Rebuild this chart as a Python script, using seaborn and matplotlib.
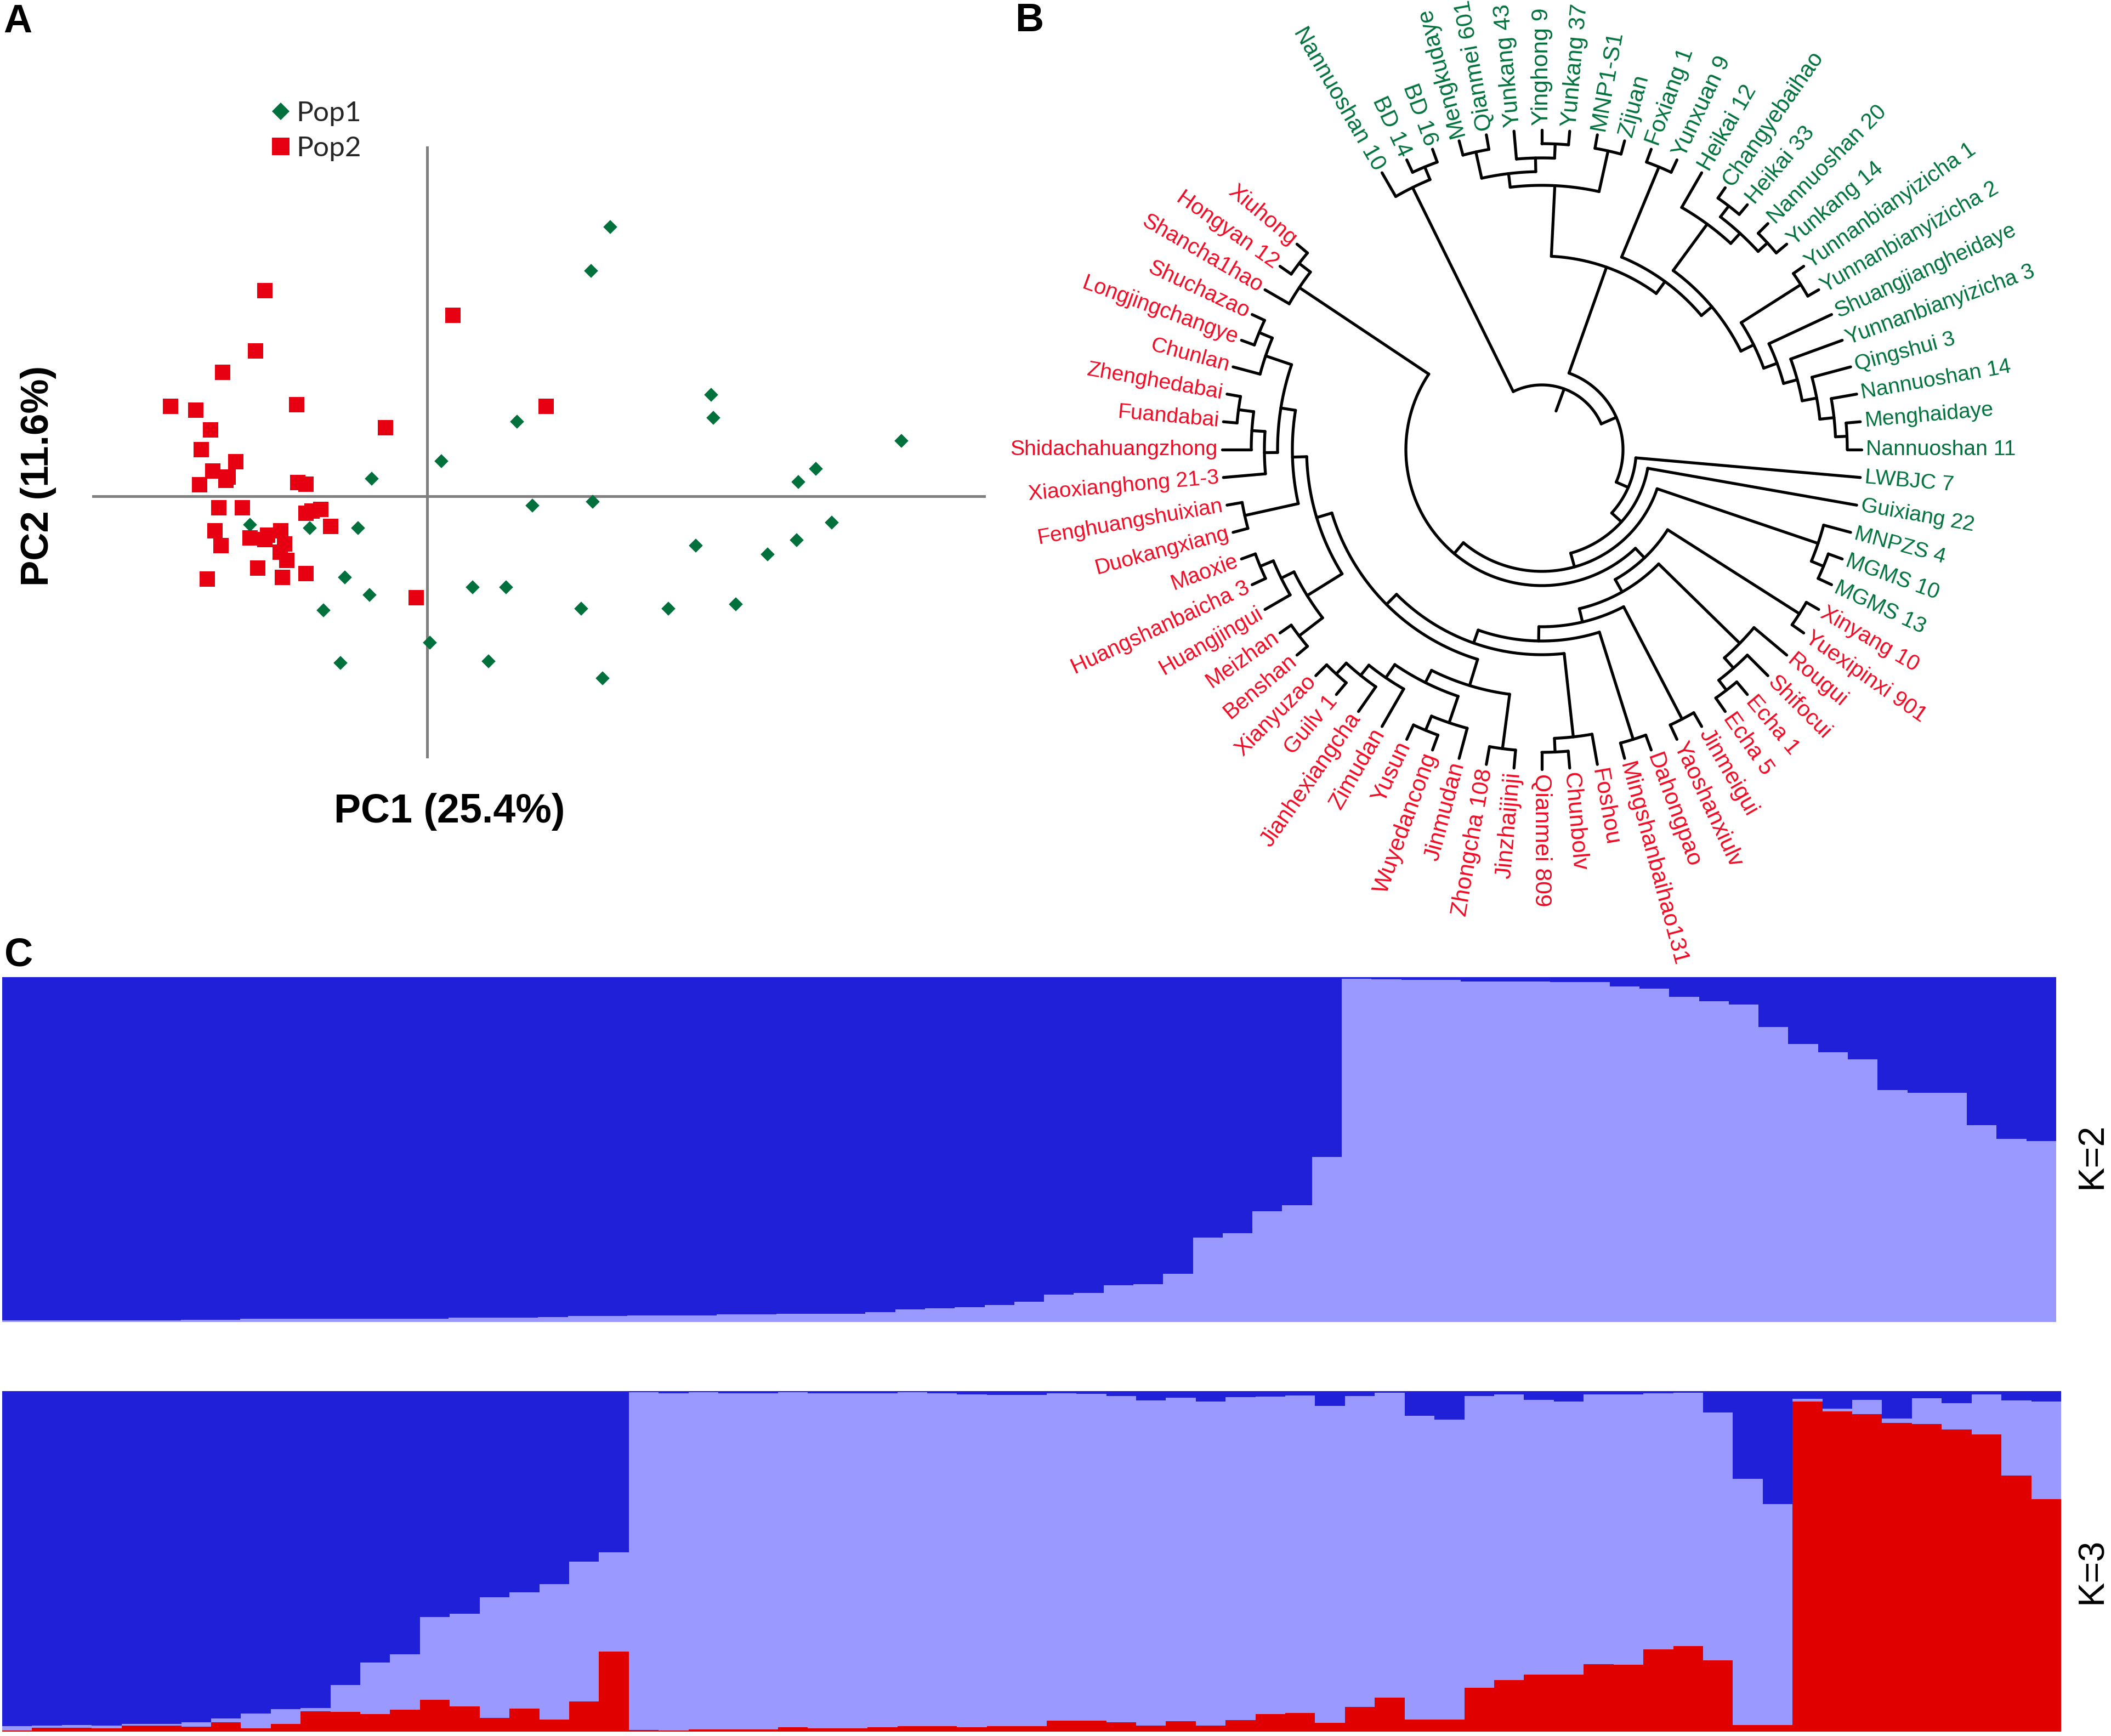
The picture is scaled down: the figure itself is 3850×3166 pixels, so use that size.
import numpy as np
import pandas as pd
import matplotlib
matplotlib.use("Agg")
import matplotlib.pyplot as plt
import seaborn as sns

W, H = 3850, 3166

GREEN = "#00703c"
RED_LABEL = "#ee0a24"
RED_MARK = "#e60012"
DARK = "#2020d9"
LIGHT = "#9999ff"
RED_BAR = "#e00000"
ARIAL = ["Liberation Sans", "DejaVu Sans"]

# PCA scores
pop1_pc1 = [3.34, 2.99, 5.18, 5.22, 8.65, 7.09, 6.77, 1.64, 0.26, -1.01, 1.92, 3.02, -3.23, -2.14, -1.26, 7.38,
            6.74, 4.90, 6.21, -1.50, -1.05, 0.83, 1.44, -1.89, 2.81, 4.40, 5.63, 0.05, 1.12, -1.58, 3.20]
pop1_pc2 = [4.91, 4.11, 1.85, 1.43, 1.01, 0.50, 0.26, 1.36, 0.64, 0.32, -0.17, -0.10, -0.52, -0.58, -0.58, -0.48,
            -0.80, -0.90, -1.06, -1.48, -1.80, -1.66, -1.66, -2.08, -2.05, -2.05, -1.97, -2.67, -3.01, -3.04, -3.32]
pop2_pc1 = [-2.96, 0.47, -3.13, -3.73, -4.68, -4.22, -2.38, 2.17, -3.95, -0.76, -4.12, -3.49, -3.91, -3.63, -3.67,
            -4.15, -2.36, -2.21, -3.80, -3.37, -2.21, -2.10, -1.94, -3.87, -1.76, -2.67, -2.91, -3.23, -2.96,
            -2.60, -3.76, -2.68, -2.56, -3.09, -2.21, -2.64, -4.01, -0.20]
pop2_pc2 = [3.75, 3.30, 2.65, 2.26, 1.64, 1.57, 1.67, 1.64, 1.21, 1.25, 0.85, 0.63, 0.46, 0.35, 0.29, 0.21, 0.25,
            0.22, -0.21, -0.21, -0.31, -0.27, -0.24, -0.63, -0.55, -0.63, -0.71, -0.76, -0.79, -0.87, -0.90,
            -1.02, -1.17, -1.31, -1.41, -1.48, -1.51, -1.85]

# dendrogram clades: (node radius, child, child), leaves are cultivar names
clade_n10 = (533, "Nannuoshan 10", (558, "BD 14", "BD 16"))
clade_v = (507, (556, "Mengkudaye", "Qianmei 601"), (532, "Yunkang 43", (558, "Yinghong 9", "Yunkang 37")))
clade_u = (482, clade_v, (558, "MNP1-S1", "Zijuan"))
clade_y3 = (431, (560, "Yunnanbianyizicha 1", "Yunnanbianyizicha 2"),
            (457, "Shuangjiangheidaye", (483, "Yunnanbianyizicha 3", (510, "Qingshui 3",
             (536, "Nannuoshan 14", (557, "Menghaidaye", "Nannuoshan 11"))))))
clade_y2 = (405, (510, "Heikai 12", (535, (560, "Changyebaihao", "Heikai 33"), (558, "Nannuoshan 20", "Yunkang 14"))),
            clade_y3)
clade_y = (380, (558, "Foxiang 1", "Yunxuan 9"), clade_y2)
clade_t = (353, clade_u, clade_y)

clade_g1 = (475, (526, "Jinmudan", (554, "Wuyedancong", "Yusun")),
            (504, "Zimudan", (528, "Jianhexiangcha", (555, "Guilv 1", "Xianyuzao"))))
clade_g = (450, (550, "Jinzhaijinji", "Zhongcha 108"), clade_g1)
clade_z = (506, "Xiaoxianghong 21-3", (530, "Shidachahuangzhong", (558, "Fuandabai", "Zhenghedabai")))
clade_c = (532, "Chunlan", (558, "Longjingchangye", "Shuchazao"))
clade_a = (455, (555, "Duokangxiang", "Fenghuangshuixian"), (482, clade_z, clade_c))
clade_b = (429, (504, (558, "Benshan", "Meizhan"), (530, "Huangjingui", (556, "Huangshanbaicha 3", "Maoxie"))), clade_a)
clade_n11 = (400, clade_g, clade_b)
clade_n10b = (374, (527, "Foshou", (552, "Chunbolv", "Qianmei 809")), clade_n11)
clade_n9 = (349, (554, "Dahongpao", "Mingshanbaihao131"), clade_n10b)
clade_n8 = (323, (554, "Jinmeigui", "Yaoshanxiulv"), clade_n9)
clade_n7 = (298, (505, "Rougui", (530, "Shifocui", (553, "Echa 1", "Echa 5"))), clade_n8)
clade_n6 = (272, (557, "Xinyang 10", "Yuexipinxi 901"), clade_n7)
clade_n5 = (248, clade_n6, (532, "Shancha1hao", (558, "Hongyan 12", "Xiuhong")))
clade_n4 = (222, (532, "MNPZS 4", (556, "MGMS 10", "MGMS 13")), clade_n5)
clade_n3 = (196, "Guixiang 22", clade_n4)
clade_n2 = (172, "LWBJC 7", clade_n3)
tree_root = (118, clade_n10, (148, clade_t, clade_n2))
n_green_leaves = 30

# admixture shares per accession
k2_light = [.005, .005, .005, .005, .005, .005, .007, .007, .009, .009, .009, .009, .010, .010, .010, .012, .012, .012,
            .015, .018, .018, .019, .019, .019, .022, .022, .024, .024, .024, .029, .037, .040, .043, .050, .059, .080,
            .084, .107, .110, .140, .245, .257, .321, .339, .478, .995, .993, .992, .992, .988, .988, .987, .985, .985,
            .973, .967, .942, .930, .921, .856, .806, .782, .762, .673, .664, .664, .570, .531, .525]
k3_top = [.016, .018, .019, .018, .022, .023, .027, .038, .053, .066, .070, .137, .203, .227, .337, .347, .395, .409,
          .433, .499, .526, .996, .993, .997, .994, .994, .997, .993, .994, .994, .997, .994, .990, .989, .988, .993,
          .992, .986, .972, .981, .969, .982, .984, .987, .957, .986, .995, .927, .917, .986, .990, .975, .970, .991,
          .990, .993, .995, .937, .742, .668, .977, .949, .974, .919, .979, .964, .990, .972, .969]
k3_red = [.003, .012, .011, .010, .018, .018, .014, .027, .010, .023, .060, .058, .051, .064, .094, .074, .041, .068,
          .036, .089, .235, .005, .004, .007, .006, .007, .013, .010, .010, .013, .016, .016, .013, .016, .016, .033,
          .032, .028, .018, .031, .018, .034, .051, .054, .025, .072, .100, .035, .036, .129, .151, .167, .167, .198,
          .196, .242, .252, .209, .019, .019, .969, .941, .933, .907, .904, .887, .872, .752, .682]

sns.set_theme(style="white")
plt.rcParams["font.family"] = ARIAL

fig = plt.figure(figsize=(W / 100, H / 100), dpi=100, facecolor="white")


def px_axes(left, top, right, bottom, **kw):
    return fig.add_axes([left / W, 1 - bottom / H, (right - left) / W, (bottom - top) / H], **kw)


def px_text(x, y, s, **kw):
    fig.text(x / W, 1 - y / H, s, ha="center", va="center", family=ARIAL, color="black", **kw)


# A: PCA
ax_pca = px_axes(168, 267, 1798, 1383)
pca = pd.DataFrame({
    "PC1": pop1_pc1 + pop2_pc1,
    "PC2": pop1_pc2 + pop2_pc2,
    "pop": ["Pop1"] * len(pop1_pc1) + ["Pop2"] * len(pop2_pc1),
})
sns.scatterplot(data=pca, x="PC1", y="PC2", hue="pop", style="pop", size="pop", ax=ax_pca,
                palette={"Pop1": GREEN, "Pop2": RED_MARK}, markers={"Pop1": "D", "Pop2": "s"},
                sizes={"Pop1": 170, "Pop2": 380}, linewidth=0, zorder=3)
ax_pca.axhline(0, color="#808080", lw=3.6, zorder=1)
ax_pca.axvline(0, color="#808080", lw=3.6, zorder=1)
ax_pca.set_xlim(-6.11, 10.19)
ax_pca.set_ylim(-4.78, 6.38)
sns.move_legend(ax_pca, loc="center left", bbox_to_anchor=(445 / W, 1 - 239 / H), bbox_transform=fig.transFigure,
                title=None, frameon=False, prop={"family": "Lato", "size": 37}, handletextpad=0.15,
                labelspacing=0.36, handlelength=0.8)
for handle, marker_size in zip(ax_pca.get_legend().legend_handles, [16.5, 23]):
    handle.set_markersize(marker_size)
ax_pca.axis("off")
px_text(820, 1480, "PC1 (25.4%)", fontsize=53, fontweight="bold")
px_text(70, 868, "PC2 (11.6%)", fontsize=51, fontweight="bold", rotation=90)

# B: circular dendrogram
R_MAX = 600
LEAF_R = 583
ax_tree = px_axes(2812 - R_MAX, 820 - R_MAX, 2812 + R_MAX, 820 + R_MAX, projection="polar")
ax_tree.set_rlim(0, R_MAX)
ax_tree.axis("off")
leaf_count = [0]


def branch(thetas, radii):
    ax_tree.plot(np.radians(thetas), radii, color="black", lw=3.8, solid_capstyle="round", solid_joinstyle="miter")


def draw_leaf(name):
    i = leaf_count[0]
    leaf_count[0] += 1
    deg = 120 - 5 * i
    color = GREEN if i < n_green_leaves else RED_LABEL
    if -90 <= deg <= 105:
        rot, ha = deg, "left"
    else:
        rot, ha = deg + 180, "right"
    # the published figure is stretched vertically, so steep labels run longer
    size = 28.2 * (1 + 0.09 * np.sin(np.radians(deg)) ** 2)
    ax_tree.text(np.radians(deg), LEAF_R + 8, name, color=color, fontsize=size, rotation=rot, ha=ha, va="center",
                 rotation_mode="anchor", family=ARIAL)
    return deg, LEAF_R


def draw_node(node):
    if isinstance(node, str):
        return draw_leaf(node)
    r = node[0]
    placed = [draw_node(child) for child in node[1:]]
    degs = [p[0] for p in placed]
    branch(np.linspace(min(degs), max(degs), 80), np.full(80, r))
    for deg, child_r in placed:
        branch([deg, deg], [r, child_r])
    return np.mean(degs), r


root_deg, root_r = draw_node(tree_root)
branch([root_deg, root_deg], [75, root_r])

# C: admixture bars
positions = np.arange(len(k2_light))


def stacked(ax, layers):
    for values, color in layers:
        sns.barplot(x=positions, y=values, color=color, width=1, saturation=1, linewidth=0, ax=ax)
    ax.set_xlim(-0.5, len(positions) - 0.5)
    ax.set_ylim(0, 1)
    ax.axis("off")


ax_k2 = px_axes(4, 1782, 3750, 2411)
stacked(ax_k2, [(np.ones(len(positions)), DARK), (k2_light, LIGHT)])
ax_k3 = px_axes(4, 2537, 3759, 3158)
stacked(ax_k3, [(np.ones(len(positions)), DARK), (k3_top, LIGHT), (k3_red, RED_BAR)])
px_text(3816, 2108, "K=2", fontsize=48, rotation=90)
px_text(3816, 2865, "K=3", fontsize=48, rotation=90)

# panel letters
px_text(32, 40, "A", fontsize=52, fontweight="bold")
px_text(1877, 38, "B", fontsize=52, fontweight="bold")
px_text(34, 1742, "C", fontsize=52, fontweight="bold")

fig.savefig("out.png", dpi=100, facecolor="white")
